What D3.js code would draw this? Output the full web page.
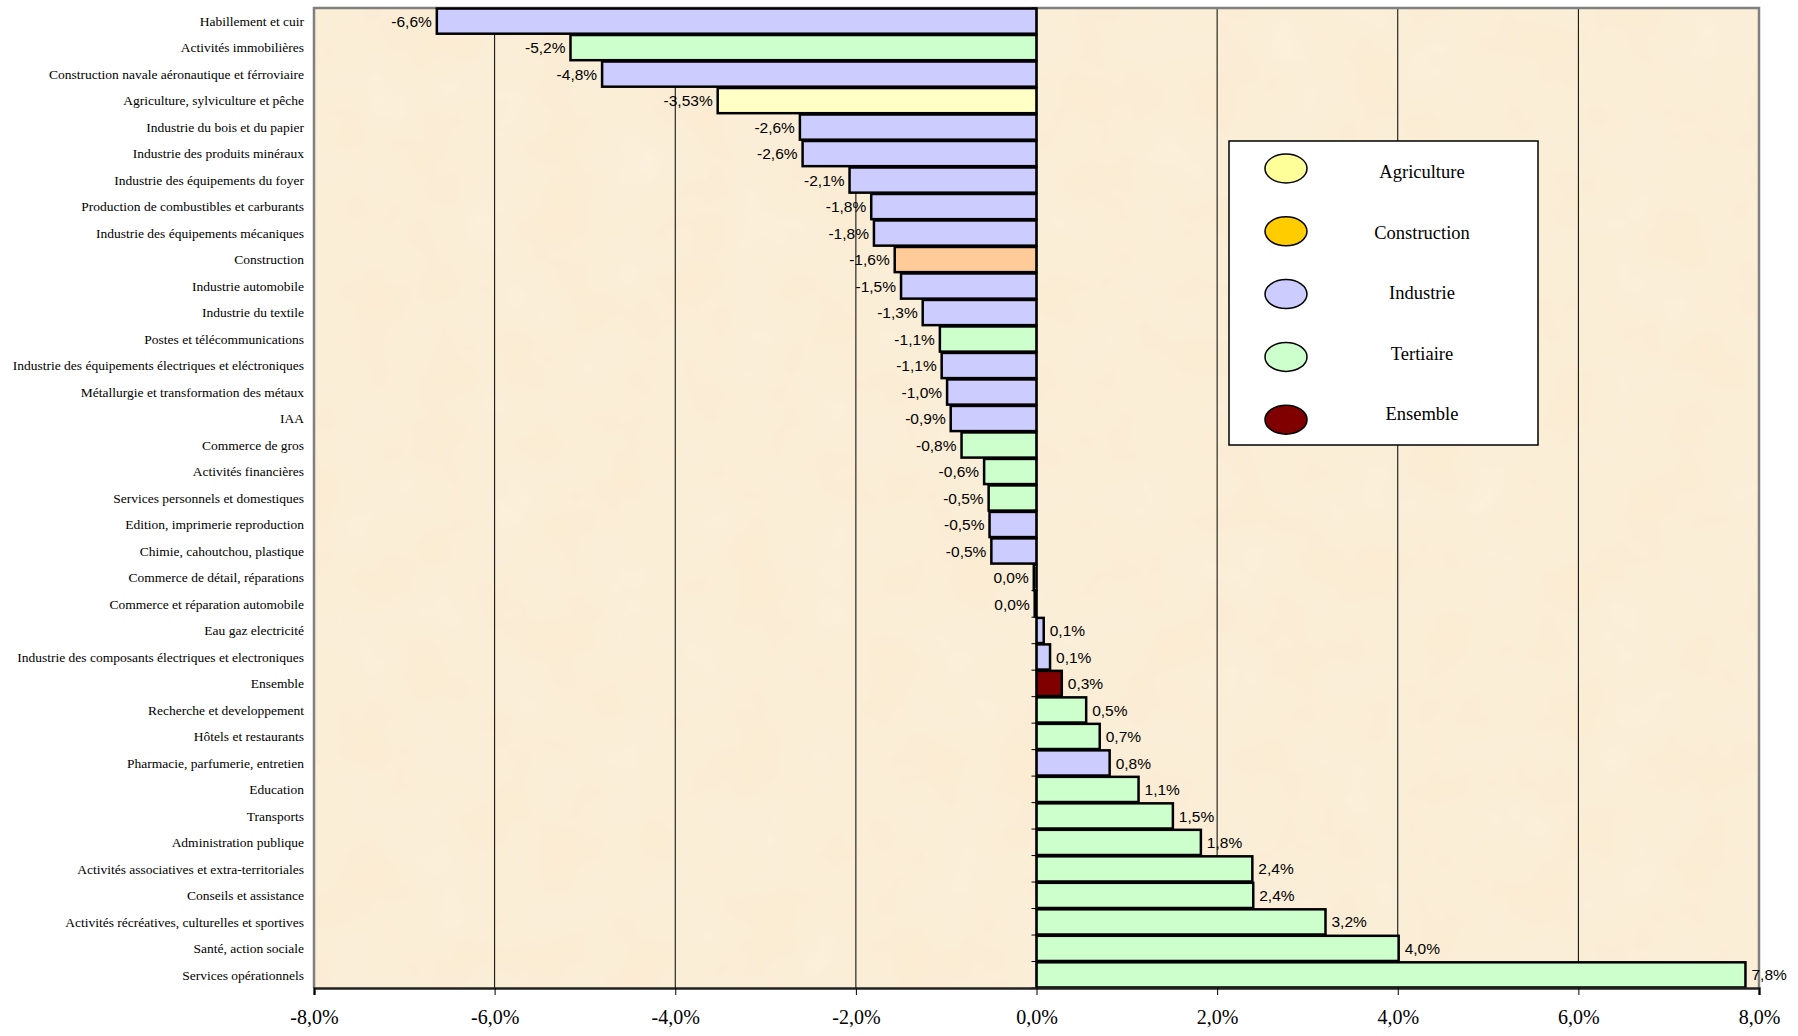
<!DOCTYPE html>
<html><head><meta charset="utf-8">
<script src="https://cdn.jsdelivr.net/npm/d3@7"></script>
<style>
html,body{margin:0;padding:0;background:#fff;}
svg{display:block;}
</style></head>
<body>
<svg id="chart" width="1798" height="1036"></svg>
<script>
const categories = [
 "Habillement et cuir","Activités immobilières","Construction navale aéronautique et férroviaire",
 "Agriculture, sylviculture et pêche","Industrie du bois et du papier","Industrie des produits minéraux",
 "Industrie des équipements du foyer","Production de combustibles et carburants","Industrie des équipements mécaniques",
 "Construction","Industrie automobile","Industrie du textile","Postes et télécommunications",
 "Industrie des équipements électriques et eléctroniques","Métallurgie et transformation des métaux","IAA",
 "Commerce de gros","Activités financières","Services personnels et domestiques","Edition, imprimerie reproduction",
 "Chimie, cahoutchou, plastique","Commerce de détail, réparations","Commerce et réparation automobile",
 "Eau gaz electricité","Industrie des composants électriques et electroniques","Ensemble",
 "Recherche et developpement","Hôtels et restaurants","Pharmacie, parfumerie, entretien","Education",
 "Transports","Administration publique","Activités associatives et extra-territoriales","Conseils et assistance",
 "Activités récréatives, culturelles et sportives","Santé, action sociale","Services opérationnels"
];
const values = [
 -6.64,-5.16,-4.81,-3.53,-2.62,-2.59,-2.07,-1.83,-1.80,-1.57,-1.50,-1.26,-1.07,-1.05,-0.99,-0.95,
 -0.83,-0.58,-0.53,-0.52,-0.50,-0.03,-0.02,0.08,0.15,0.28,0.55,0.70,0.81,1.13,1.51,1.82,2.39,2.40,3.20,4.01,7.85
];
const valueLabels = [
 "-6,6%","-5,2%","-4,8%","-3,53%","-2,6%","-2,6%","-2,1%","-1,8%","-1,8%","-1,6%","-1,5%","-1,3%","-1,1%",
 "-1,1%","-1,0%","-0,9%","-0,8%","-0,6%","-0,5%","-0,5%","-0,5%","0,0%","0,0%","0,1%","0,1%","0,3%","0,5%",
 "0,7%","0,8%","1,1%","1,5%","1,8%","2,4%","2,4%","3,2%","4,0%","7,8%"
];
const sectors = [
 "Industrie","Tertiaire","Industrie","Agriculture","Industrie","Industrie","Industrie","Industrie","Industrie",
 "Construction","Industrie","Industrie","Tertiaire","Industrie","Industrie","Industrie","Tertiaire","Tertiaire",
 "Tertiaire","Industrie","Industrie","Tertiaire","Tertiaire","Industrie","Industrie","Ensemble","Tertiaire",
 "Tertiaire","Industrie","Tertiaire","Tertiaire","Tertiaire","Tertiaire","Tertiaire","Tertiaire","Tertiaire","Tertiaire"
];
const xTicks = [-8,-6,-4,-2,0,2,4,6,8];
const xTickLabels = ["-8,0%","-6,0%","-4,0%","-2,0%","0,0%","2,0%","4,0%","6,0%","8,0%"];
const legendNames = ["Agriculture","Construction","Industrie","Tertiaire","Ensemble"];
const legendColors = ["#FFFF99","#FFCC00","#CCCCFF","#CCFFCC","#800000"];
const barColors = {Agriculture:"#FFFFC6",Construction:"#FFCC99",Industrie:"#CCCCFF",Tertiaire:"#CCFFCC",Ensemble:"#800000"};

const svg = d3.select("#chart");
const L = 314, R = 1759, T = 8, B = 988;

const x = d3.scaleLinear().domain([-8,8]).range([L,R]);
const y = d3.scaleBand().domain(categories).range([T,B]).paddingInner(0.05).paddingOuter(0.02);

// parchment background
const defs = svg.append("defs");
const f = defs.append("filter").attr("id","paper").attr("x",0).attr("y",0).attr("width","100%").attr("height","100%");
f.append("feTurbulence").attr("type","fractalNoise").attr("baseFrequency","0.015").attr("numOctaves",3).attr("seed",4).attr("result","n");
f.append("feColorMatrix").attr("in","n").attr("type","matrix")
 .attr("values","0 0 0 0 1  0 0 0 0 0.98  0 0 0 0 0.93  0 0 0 0.3 -0.06").attr("result","w");
f.append("feComposite").attr("in","w").attr("in2","SourceGraphic").attr("operator","atop");

svg.append("rect").attr("x",L).attr("y",T).attr("width",R-L).attr("height",B-T).attr("fill","#FBECD3");
svg.append("rect").attr("x",L).attr("y",T).attr("width",R-L).attr("height",B-T).attr("fill","#FBECD3").attr("filter","url(#paper)");

// gridlines
svg.append("g").selectAll("line").data(xTicks.filter(d=>d!==0 && Math.abs(d)!==8)).join("line")
 .attr("x1",d=>x(d)).attr("x2",d=>x(d)).attr("y1",T).attr("y2",B)
 .attr("stroke","#000").attr("stroke-width",1);

// plot border (gray)
svg.append("path").attr("d",`M${L},${B}V${T}H${R}V${B}`).attr("fill","none").attr("stroke","#808080").attr("stroke-width",2.5);

// bars
svg.append("g").selectAll("rect").data(values).join("rect")
 .attr("x",d=>x(Math.min(0,d))).attr("y",(d,i)=>y(categories[i]))
 .attr("width",d=>Math.abs(x(d)-x(0))).attr("height",y.bandwidth())
 .attr("fill",(d,i)=>barColors[sectors[i]]).attr("stroke","#000").attr("stroke-width",2.5);

// zero axis with ticks at band boundaries
svg.append("line").attr("x1",x(0)).attr("x2",x(0)).attr("y1",T).attr("y2",B).attr("stroke","#000").attr("stroke-width",1.5);
const bounds = d3.range(categories.length+1).map(i=>T + (B-T)*i/categories.length);
svg.append("g").selectAll("line").data(bounds).join("line")
 .attr("x1",x(0)-5).attr("x2",x(0)).attr("y1",d=>d).attr("y2",d=>d).attr("stroke","#000").attr("stroke-width",1);

// bottom axis
const xAxis = d3.axisBottom(x).tickValues(xTicks).tickSize(7).tickFormat((d,i)=>xTickLabels[i]);
const gx = svg.append("g").attr("transform",`translate(0,${B})`).call(xAxis);
gx.select(".domain").attr("stroke","#222").attr("stroke-width",2.5);
gx.selectAll(".tick line").attr("stroke","#000").attr("stroke-width",1);
gx.selectAll(".tick text").attr("font-family","'Liberation Serif','Times New Roman',serif").attr("font-size",20).attr("fill","#000").attr("y",22).attr("dy","0.71em");

// category labels
svg.append("g").selectAll("text").data(categories).join("text")
 .attr("x",L-10).attr("y",d=>y(d)+y.bandwidth()/2).attr("dy","0.35em")
 .attr("text-anchor","end").attr("font-family","'Liberation Serif','Times New Roman',serif").attr("font-size",13.5)
 .attr("fill","#000").text(d=>d);

// value labels
svg.append("g").selectAll("text").data(values).join("text")
 .attr("x",d=>d<0 ? x(d)-5 : x(d)+6)
 .attr("y",(d,i)=>y(categories[i])+y.bandwidth()/2).attr("dy","0.36em")
 .attr("text-anchor",d=>d<0?"end":"start")
 .attr("font-family","'Liberation Sans',Arial,sans-serif").attr("font-size",15.5).attr("fill","#000")
 .text((d,i)=>valueLabels[i]);

// legend
const lg = svg.append("g");
lg.append("rect").attr("x",1229).attr("y",141).attr("width",309).attr("height",304).attr("fill","#fff").attr("stroke","#000").attr("stroke-width",1.5);
const items = lg.selectAll("g").data(legendNames).join("g");
items.append("ellipse").attr("cx",1286).attr("cy",(d,i)=>168.5+i*62.8).attr("rx",21).attr("ry",14.5)
 .attr("fill",(d,i)=>legendColors[i]).attr("stroke","#000").attr("stroke-width",1.5);
items.append("text").attr("x",1422).attr("y",(d,i)=>172+i*60.5).attr("dy","0.35em").attr("text-anchor","middle")
 .attr("font-family","'Liberation Serif','Times New Roman',serif").attr("font-size",18.5).attr("fill","#000").text(d=>d);
</script>
</body></html>
